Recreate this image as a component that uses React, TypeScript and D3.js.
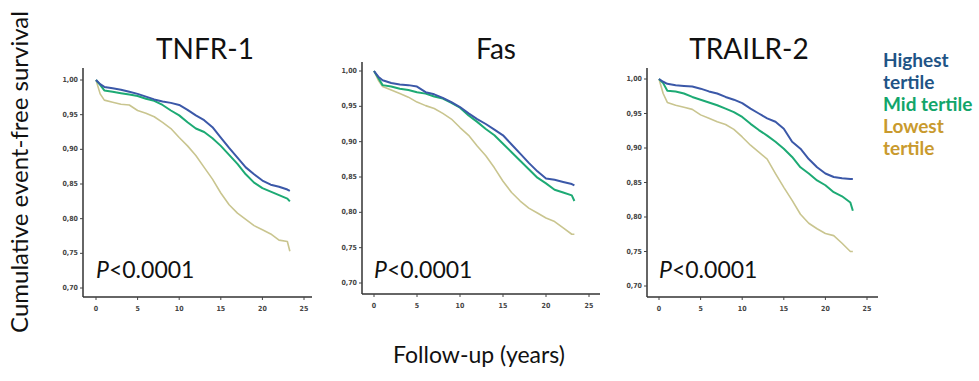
import * as d3 from 'd3';

// follow-up times (years) at which each curve was read
const TIMES = [0, 0.5, 1, 2, 3, 4, 5, 6, 7, 8, 9, 10, 11, 12, 13, 14, 15, 16, 17, 18, 19, 20, 21, 22, 23, 23.3];

const TNFR_HIGH = [1.0, .994, .990, .988, .986, .983, .980, .976, .972, .969, .967, .964, .957, .949, .942, .932, .917, .902, .888, .874, .864, .855, .849, .846, .842, .840];
const TNFR_MID = [1.0, .993, .985, .983, .981, .979, .977, .973, .970, .964, .956, .949, .939, .930, .925, .916, .905, .892, .879, .864, .852, .844, .839, .834, .829, .825];
const TNFR_LOW = [1.0, .980, .971, .968, .965, .964, .956, .952, .947, .939, .930, .917, .905, .891, .874, .857, .837, .820, .808, .799, .790, .784, .778, .769, .767, .753];

const FAS_HIGH = [1.0, .992, .987, .983, .981, .980, .978, .970, .967, .962, .956, .949, .940, .932, .925, .917, .909, .896, .883, .870, .858, .848, .846, .843, .840, .838];
const FAS_MID = [1.0, .990, .980, .978, .975, .973, .970, .968, .964, .961, .955, .948, .937, .928, .918, .909, .897, .885, .873, .861, .849, .841, .832, .828, .824, .816];
const FAS_LOW = [1.0, .987, .978, .973, .968, .963, .956, .951, .947, .940, .932, .920, .909, .894, .880, .863, .844, .828, .816, .806, .799, .792, .787, .778, .769, .769];

const TRAIL_HIGH = [1.0, .996, .993, .991, .990, .989, .986, .982, .979, .974, .970, .965, .957, .950, .943, .938, .928, .909, .899, .884, .872, .863, .858, .856, .855, .855];
const TRAIL_MID = [1.0, .994, .983, .982, .979, .974, .970, .966, .962, .957, .952, .945, .935, .926, .918, .909, .899, .887, .872, .863, .853, .846, .836, .830, .821, .809];
const TRAIL_LOW = [1.0, .979, .966, .962, .959, .956, .948, .943, .938, .934, .927, .916, .904, .894, .884, .863, .843, .824, .804, .791, .783, .776, .773, .762, .750, .750];

const X_TICKS = [0, 5, 10, 15, 20, 25];
const Y_TICKS = [0.70, 0.75, 0.80, 0.85, 0.90, 0.95, 1.00];

const LINE_COLORS = ['#3B58A8', '#1DAA74', '#C9C58F'];
const LEGEND = [
  { text: 'Highest', color: '#1F5486' },
  { text: 'tertile', color: '#1F5486' },
  { text: 'Mid tertile', color: '#12A56A' },
  { text: 'Lowest', color: '#C99A2E' },
  { text: 'tertile', color: '#C99A2E' },
];

const PANELS = [
  { title: 'TNFR-1', cx: 205, series: [TNFR_HIGH, TNFR_MID, TNFR_LOW],
    left: 83, top: 68, bottom: 297, axisEnd: 312, x0: 96, x25: 304, y70: 288, y100: 80 },
  { title: 'Fas', cx: 496, series: [FAS_HIGH, FAS_MID, FAS_LOW],
    left: 362, top: 62, bottom: 294, axisEnd: 600, x0: 374, x25: 589, y70: 283, y100: 71 },
  { title: 'TRAILR-2', cx: 749, series: [TRAIL_HIGH, TRAIL_MID, TRAIL_LOW],
    left: 647, top: 68, bottom: 297, axisEnd: 878, x0: 659, x25: 867, y70: 286, y100: 79 },
];

const FONT = 'Lato, "Open Sans", sans-serif';
const TICK_FONT = '"Liberation Sans Narrow", "DejaVu Sans Condensed", sans-serif';

function Panel({ p }: { p: typeof PANELS[number] }) {
  const x = d3.scaleLinear().domain([0, 25]).range([p.x0, p.x25]);
  const y = d3.scaleLinear().domain([0.70, 1.00]).range([p.y70, p.y100]);
  const line = d3.line<number>()
    .x((_, i) => x(TIMES[i]))
    .y(d => y(d));

  return (
    <g>
      <text x={p.cx} y={59} textAnchor="middle" fontSize={28} fontFamily={FONT} fill="#111">
        {p.title}
      </text>

      {/* axes */}
      <line x1={p.left} x2={p.left} y1={p.top} y2={p.bottom} stroke="#333" strokeWidth={1.5} />
      <line x1={p.left} x2={p.axisEnd} y1={p.bottom} y2={p.bottom} stroke="#333" strokeWidth={1.5} />
      {Y_TICKS.map(t => (
        <g key={t}>
          <line x1={p.left - 3} x2={p.left} y1={y(t)} y2={y(t)} stroke="#444" />
          <text x={p.left - 5} y={y(t)} textAnchor="end" dominantBaseline="central"
            fontSize={7} fontWeight={700} fontFamily={TICK_FONT} fill="#444">
            {t.toFixed(2).replace('.', ',')}
          </text>
        </g>
      ))}
      {X_TICKS.map(t => (
        <g key={t}>
          <line x1={x(t)} x2={x(t)} y1={p.bottom} y2={p.bottom + 3} stroke="#444" />
          <text x={x(t)} y={p.bottom + 14} textAnchor="middle"
            fontSize={7} fontWeight={700} fontFamily={TICK_FONT} fill="#444">
            {t}
          </text>
        </g>
      ))}

      {/* survival curves, lowest drawn first */}
      {[2, 1, 0].map(k => (
        <path key={k} d={line(p.series[k]) ?? ''} fill="none" stroke={LINE_COLORS[k]}
          strokeWidth={k === 2 ? 1.6 : 2} strokeLinejoin="round" />
      ))}

      <text x={p.x0} y={278} fontSize={23} fontFamily={FONT} fill="#111">
        <tspan fontStyle="italic">P</tspan>&lt;0.0001
      </text>
    </g>
  );
}

export default function App() {
  return (
    <svg width={979} height={381} style={{ position: 'absolute', left: 0, top: 0, background: '#fff' }}>
      <rect width={979} height={381} fill="#fff" />
      {PANELS.map(p => <Panel key={p.title} p={p} />)}

      {/* legend */}
      {LEGEND.map((l, i) => (
        <text key={i} x={883} y={67 + i * 22} fontSize={19} fontWeight={700}
          fontFamily={FONT} fill={l.color}>
          {l.text}
        </text>
      ))}

      <text transform="translate(28,172) rotate(-90)" textAnchor="middle"
        fontSize={24} fontFamily={FONT} fill="#111">
        Cumulative event-free survival
      </text>
      <text x={479} y={363} textAnchor="middle" fontSize={23} fontFamily={FONT} fill="#111">
        Follow-up (years)
      </text>
    </svg>
  );
}
